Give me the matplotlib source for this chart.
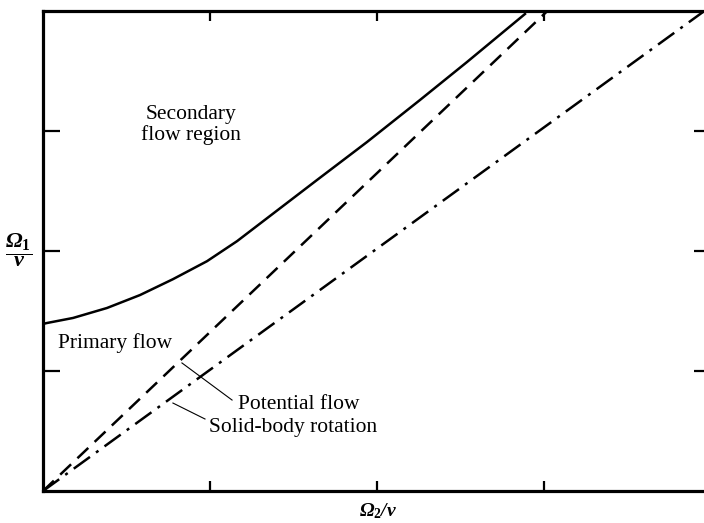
import numpy as np
import matplotlib.pyplot as plt

plt.rcParams['font.family'] = ['Liberation Serif', 'DejaVu Serif']
plt.rcParams['mathtext.fontset'] = 'custom'
plt.rcParams['mathtext.rm'] = 'Liberation Serif:bold'
plt.rcParams['mathtext.it'] = 'Liberation Serif:italic:bold'
plt.rcParams['mathtext.bf'] = 'Liberation Serif:italic:bold'

# stability boundary, in tick units
boundary_x = [0.0, 0.024, 0.180, 0.383, 0.581, 0.778, 0.982, 1.162, 1.641, 1.940, 2.257, 2.539, 2.886]
boundary_y = [1.392, 1.400, 1.442, 1.525, 1.633, 1.765, 1.915, 2.082, 2.592, 2.908, 3.258, 3.575, 3.975]

# potential flow and solid-body rotation lines
potential_x = [0.0, 3.02]
potential_y = [0.0, 4.0]
solid_x = [0.0, 3.96]
solid_y = [0.0, 4.0]

ticks = [1, 2, 3]

fig = plt.figure(figsize=(7.04, 5.23), dpi=100)
ax = fig.add_axes([43/704, 32/523, 661/704, 480/523])

ax.plot(boundary_x, boundary_y, color='black', lw=1.8, solid_joinstyle='round')
ax.plot(potential_x, potential_y, color='black', lw=1.8, dashes=(6, 3.5))
ax.plot(solid_x, solid_y, color='black', lw=1.8, dashes=(8, 3, 1.2, 3))

ax.set_xlim(0, 3.958)
ax.set_ylim(0, 4.0)
ax.set_xticks(ticks)
ax.set_yticks(ticks)
ax.set_xticklabels([])
ax.set_yticklabels([])

for side in ['left', 'bottom', 'top']:
    ax.spines[side].set_linewidth(2.3)
ax.spines['right'].set_visible(False)

ax.tick_params(axis='x', direction='in', length=7.5, width=1.6, top=True, bottom=True)
ax.tick_params(axis='y', which='both', direction='in', width=1.6, right=True)
ax.tick_params(axis='y', left=True, length=12)
for t in ax.yaxis.get_major_ticks():
    t.tick2line.set_markersize(7)

fs = 15.5
ax.text(0.886, 3.05, 'Secondary\nflow region', ha='center', va='center',
        fontsize=fs, linespacing=1.12)
ax.text(0.09, 1.233, 'Primary flow', ha='left', va='center', fontsize=fs)
ax.text(1.168, 0.717, 'Potential flow', ha='left', va='center', fontsize=fs)
ax.text(0.994, 0.533, 'Solid-body rotation', ha='left', va='center', fontsize=fs)

ax.plot([0.832, 1.132], [1.067, 0.758], color='black', lw=0.8)
ax.plot([0.778, 0.97], [0.733, 0.60], color='black', lw=0.8)

fig.text(19/704, 1 - 250/523, r'$\dfrac{\mathbf{\Omega}_{\mathrm{1}}}{\mathbf{\nu}}$', ha='center',
         va='center', fontsize=16)
fig.text(378/704, 1 - 511/523, r'$\mathbf{\Omega}_{\mathrm{2}}\mathbf{/\nu}$', ha='center',
         va='center', fontsize=14)

fig.savefig('out.png', dpi=100)
